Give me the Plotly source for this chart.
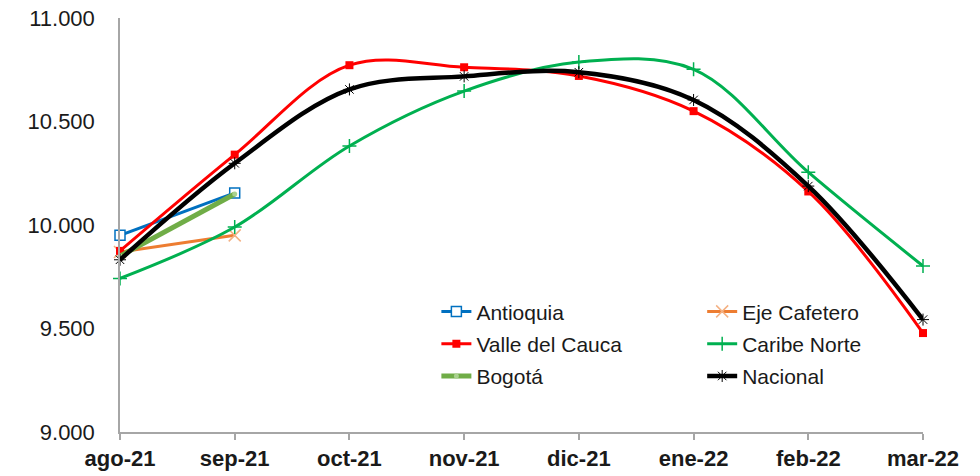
import plotly.graph_objects as go

months = ["ago-21", "sep-21", "oct-21", "nov-21", "dic-21", "ene-22", "feb-22", "mar-22"]

antioquia = [9950, 10155]
eje_cafetero = [9870, 9950]
valle_cauca = [9875, 10340, 10772, 10762, 10720, 10550, 10162, 9478]
caribe_norte = [9742, 9990, 10382, 10647, 10787, 10752, 10255, 9802]
bogota = [9850, 10150]
nacional = [9832, 10298, 10655, 10718, 10738, 10604, 10188, 9543]

FONT = "Liberation Sans, Arial, sans-serif"

fig = go.Figure()

def add(name, y, color, width, marker, legend):
    fig.add_trace(go.Scatter(
        x=months[:len(y)], y=y, name=name, mode="lines+markers",
        line=dict(color=color, width=width, shape="spline", smoothing=1.0),
        marker=marker, cliponaxis=False, legend=legend, legendgroup=name,
    ))

add("Antioquia", antioquia, "#0070C0", 3,
    dict(symbol="square", size=10, color="white", line=dict(color="#0070C0", width=1.5)), "legend")
add("Eje Cafetero", eje_cafetero, "#ED7D31", 3,
    dict(symbol="x-thin-open", size=12, color="#F4B183", line=dict(color="#F4B183", width=1.5)), "legend2")
add("Valle del Cauca", valle_cauca, "#FF0000", 3,
    dict(symbol="square", size=8, color="#FF0000", line=dict(width=0)), "legend")
add("Caribe Norte", caribe_norte, "#00B050", 3,
    dict(symbol="cross-thin-open", size=10, color="#00B050", line=dict(color="#00B050", width=1.5)), "legend2")
add("Bogotá", bogota, "#70AD47", 5,
    dict(symbol="circle", size=5, color="#A9D18E", line=dict(width=0)), "legend")
add("Nacional", nacional, "#000000", 4.5,
    dict(symbol="asterisk-open", size=10, color="#000000", line=dict(color="#404040", width=1)), "legend2")

legend_common = dict(
    font=dict(family=FONT, size=21, color="#1a1a1a"),
    bgcolor="rgba(0,0,0,0)", borderwidth=0,
    orientation="v", xanchor="left", yanchor="top",
    traceorder="grouped", tracegroupgap=2, itemwidth=30,
)

fig.update_layout(
    width=980, height=476,
    margin=dict(l=120, r=57, t=18, b=44, autoexpand=False),
    paper_bgcolor="white", plot_bgcolor="white",
    font=dict(family=FONT, color="#1a1a1a"),
    showlegend=True,
    legend=dict(x=0.394, y=0.34, **legend_common),
    legend2=dict(x=0.725, y=0.34, **legend_common),
    xaxis=dict(
        type="category", categoryorder="array", categoryarray=months,
        range=[0, 7], showgrid=False, zeroline=False, automargin=False,
        showline=True, linecolor="#A6A6A6", linewidth=1.5,
        ticks="outside", ticklen=6, tickcolor="#A6A6A6", tickwidth=1.5,
        tickfont=dict(family=FONT, size=22, color="#1a1a1a", weight="bold"),
    ),
    yaxis=dict(
        range=[9000, 11000], tickvals=[9000, 9500, 10000, 10500, 11000],
        ticktext=["9.000", "9.500", "10.000", "10.500", "11.000"],
        showgrid=False, zeroline=False, automargin=False,
        showline=True, linecolor="#A6A6A6", linewidth=1.5,
        ticks="", ticklabelstandoff=19,
        tickfont=dict(family=FONT, size=22, color="#1a1a1a"),
    ),
)

fig.write_html(
    "out.html",
    config={"displayModeBar": False},
    post_script="document.body.style.margin='0';document.body.style.padding='0';",
)
